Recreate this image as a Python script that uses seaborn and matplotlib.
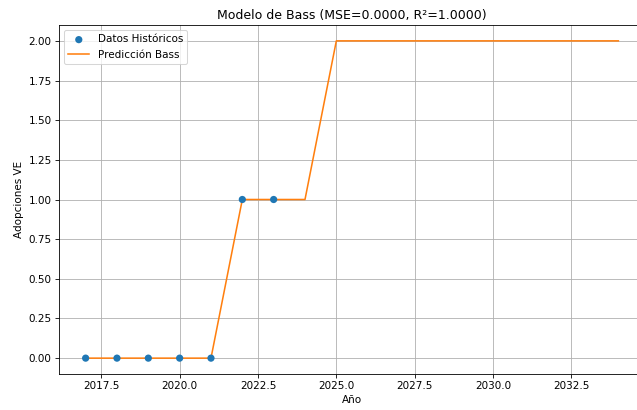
import matplotlib
matplotlib.use('Agg')
import matplotlib.pyplot as plt
import seaborn as sns
import pandas as pd

hist_years = [2017, 2018, 2019, 2020, 2021, 2022, 2023]
hist_values = [0, 0, 0, 0, 0, 1, 1]

pred_years = list(range(2017, 2035))
pred_values = [0, 0, 0, 0, 0, 1, 1, 1, 2, 2, 2, 2, 2, 2, 2, 2, 2, 2]

df_hist = pd.DataFrame({'year': hist_years, 'value': hist_values})
df_pred = pd.DataFrame({'year': pred_years, 'value': pred_values})

# 75 dpi so default sizes come out scaled like the reference
fig = plt.figure(figsize=(637 / 75, 410 / 75), dpi=75)
ax = fig.add_axes([59 / 637, 1 - 374 / 410, 586 / 637, 349 / 410])

sns.scatterplot(data=df_hist, x='year', y='value', ax=ax, color='#1f77b4',
                s=48, edgecolor='none', label='Datos Históricos', zorder=3)
sns.lineplot(data=df_pred, x='year', y='value', ax=ax, color='#ff7f0e',
             label='Predicción Bass')

ax.set_title('Modelo de Bass (MSE=0.0000, R²=1.0000)')
ax.set_xlabel('Año')
ax.set_ylabel('Adopciones VE')
ax.grid(True)
ax.legend(loc='upper left')

fig.savefig('out.png', dpi=75)
